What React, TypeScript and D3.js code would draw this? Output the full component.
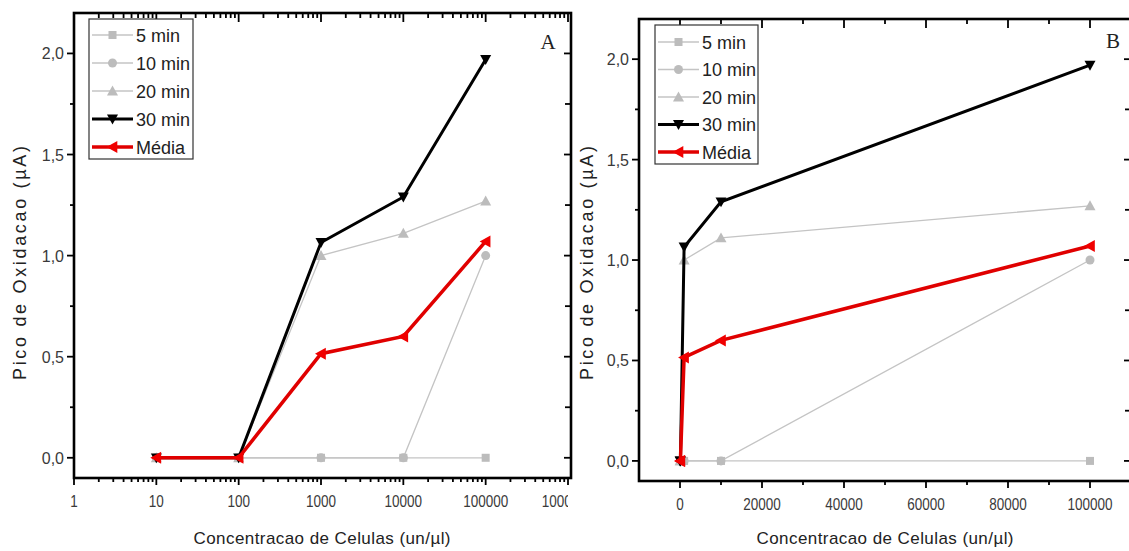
import React from "react";
import * as d3 from "d3";

const conc = [10, 100, 1000, 10000, 100000];
const min5 = [0, 0, 0, 0, 0];
const min10 = [0, 0, 0, 0, 1.0];
const min20 = [0, 0, 1.0, 1.11, 1.27];
const min30 = [0, 0, 1.065, 1.29, 1.97];
const media = [0, 0, 0.515, 0.6, 1.07];
const seriesNames = ["5 min", "10 min", "20 min", "30 min", "Média"];
const yTickLabels = ["0,0", "0,5", "1,0", "1,5", "2,0"];
const yMajor = [0, 0.5, 1.0, 1.5, 2.0];
const yMinor = [0.25, 0.75, 1.25, 1.75];
const logMajor = [1, 10, 100, 1000, 10000, 100000, 1000000];
const linMajor = [0, 20000, 40000, 60000, 80000, 100000];
const linMinor = [10000, 30000, 50000, 70000, 90000];

const FONT = "'Liberation Sans', Arial, sans-serif";
const GRAY_LINE = "#c4c4c4";
const GRAY_MARK = "#bcbcbc";
const RED = "#e00000";

type Style = { name: string; data: number[]; stroke: string; fill: string; width: number; marker: string; size: number };
const styles: Style[] = [
  { name: seriesNames[0], data: min5, stroke: GRAY_LINE, fill: GRAY_MARK, width: 1.3, marker: "square", size: 8 },
  { name: seriesNames[1], data: min10, stroke: GRAY_LINE, fill: GRAY_MARK, width: 1.3, marker: "circle", size: 9 },
  { name: seriesNames[2], data: min20, stroke: GRAY_LINE, fill: GRAY_MARK, width: 1.3, marker: "up", size: 11 },
  { name: seriesNames[3], data: min30, stroke: "#000", fill: "#000", width: 3, marker: "down", size: 11 },
  { name: seriesNames[4], data: media, stroke: RED, fill: "#f00000", width: 3.5, marker: "left", size: 12 },
];

function Marker({ x, y, kind, size, fill }: { x: number; y: number; kind: string; size: number; fill: string }) {
  const h = size / 2;
  if (kind === "square") return <rect x={x - h} y={y - h} width={size} height={size} fill={fill} />;
  if (kind === "circle") return <circle cx={x} cy={y} r={h} fill={fill} />;
  let pts = "";
  if (kind === "up") pts = `${x},${y - h} ${x + h},${y + h * 0.8} ${x - h},${y + h * 0.8}`;
  if (kind === "down") pts = `${x},${y + h} ${x + h},${y - h * 0.8} ${x - h},${y - h * 0.8}`;
  if (kind === "left") pts = `${x - h},${y} ${x + h * 0.8},${y - h} ${x + h * 0.8},${y + h}`;
  return <polygon points={pts} fill={fill} />;
}

type PanelProps = {
  id: string;
  left: number; right: number; top: number; bottom: number; xEnd: number;
  log: boolean;
  letter: string; letterX: number; letterY: number;
  legendX: number; legendY: number; legendW: number; legendH: number; legendRow0: number; legendStep: number;
  ytitleX: number; xtitleX: number;
  clipRight: number;
};

function Panel(p: PanelProps) {
  const y = d3.scaleLinear().domain([-0.1, 2.2]).range([p.bottom, p.top]);
  const x: any = p.log
    ? d3.scaleLog().domain([1, 1000000]).range([p.left, p.xEnd])
    : d3.scaleLinear().domain([-10000, 110000]).range([p.left, p.xEnd]);
  const line = d3.line<number>().x((_, i) => x(conc[i])).y((d) => y(d));

  const xMaj = p.log ? logMajor : linMajor;
  let xMin: number[] = [];
  if (p.log) {
    for (let k = 0; k < 6; k++) for (let m = 2; m <= 9; m++) xMin.push(m * Math.pow(10, k));
  } else xMin = linMinor;
  const xLabel = (v: number) => String(v);

  const majLen = 7, minLen = 4;
  const tickStroke = 1.8;

  return (
    <g>
      <defs>
        <clipPath id={`clip-${p.id}`}>
          <rect x={p.left - 80} y={0} width={p.clipRight - p.left + 80} height={551} />
        </clipPath>
      </defs>
      {styles.map((s, si) => (
        <g key={si}>
          <path d={line(s.data) || ""} fill="none" stroke={s.stroke} strokeWidth={s.width} strokeLinejoin="miter" />
          {s.data.map((v, i) => (
            <Marker key={i} x={x(conc[i])} y={y(v)} kind={s.marker} size={s.size} fill={s.fill} />
          ))}
        </g>
      ))}
      <g stroke="#000" strokeWidth={tickStroke}>
        {xMaj.map((v, i) => (
          <g key={"xm" + i}>
            <line x1={x(v)} x2={x(v)} y1={p.bottom} y2={p.bottom + majLen} />
            <line x1={x(v)} x2={x(v)} y1={p.top} y2={p.top + majLen + 2} />
          </g>
        ))}
        {xMin.map((v, i) => (
          <g key={"xn" + i}>
            <line x1={x(v)} x2={x(v)} y1={p.bottom} y2={p.bottom + minLen} />
            <line x1={x(v)} x2={x(v)} y1={p.top} y2={p.top + minLen + 1} />
          </g>
        ))}
        {yMajor.map((v, i) => (
          <g key={"ym" + i}>
            <line x1={p.left - majLen} x2={p.left} y1={y(v)} y2={y(v)} />
            <line x1={p.right - majLen} x2={p.right} y1={y(v)} y2={y(v)} />
          </g>
        ))}
        {yMinor.map((v, i) => (
          <g key={"yn" + i}>
            <line x1={p.left - minLen} x2={p.left} y1={y(v)} y2={y(v)} />
            <line x1={p.right - minLen - 2} x2={p.right} y1={y(v)} y2={y(v)} />
          </g>
        ))}
      </g>
      <rect x={p.left} y={p.top} width={p.right - p.left} height={p.bottom - p.top} fill="none" stroke="#000" strokeWidth={2.6} />
      <g fontFamily={FONT} fontSize={16} fill="#3a3a3a" clipPath={`url(#clip-${p.id})`}>
        {xMaj.map((v, i) => (
          <text key={i} x={x(v)} y={p.bottom + 29} textAnchor="middle" textLength={xLabel(v).length * 7.5} lengthAdjust="spacingAndGlyphs">{xLabel(v)}</text>
        ))}
        {yMajor.map((v, i) => (
          <text key={i} x={p.left - 10} y={y(v) + 6} textAnchor="end">{yTickLabels[i]}</text>
        ))}
      </g>
      <text x={p.xtitleX} y={544} textAnchor="middle" fontFamily={FONT} fontSize={17} fill="#222" textLength={257} lengthAdjust="spacing">
        Concentracao de Celulas (un/µl)
      </text>
      <text transform={`translate(${p.ytitleX},263) rotate(-90)`} textAnchor="middle" fontFamily={FONT} fontSize={18} fill="#222" textLength={234} lengthAdjust="spacing">
        Pico de Oxidacao (µA)
      </text>
      <text x={p.letterX} y={p.letterY} textAnchor="middle" fontFamily="'Liberation Serif', 'Times New Roman', serif" fontSize={21} fill="#222">{p.letter}</text>
      <rect x={p.legendX} y={p.legendY} width={p.legendW} height={p.legendH} fill="#fff" stroke="#333" strokeWidth={1.2} />
      {styles.map((s, i) => {
        const cy = p.legendRow0 + i * p.legendStep;
        const lx0 = p.legendX + 3, lx1 = p.legendX + 44;
        return (
          <g key={i}>
            <line x1={lx0} x2={lx1} y1={cy} y2={cy} stroke={s.stroke} strokeWidth={s.width} />
            <Marker x={(lx0 + lx1) / 2} y={cy} kind={s.marker} size={s.size} fill={s.fill} />
            <text x={p.legendX + 47} y={cy + 6.5} fontFamily={FONT} fontSize={18} fill="#222">{s.name}</text>
          </g>
        );
      })}
    </g>
  );
}

export default function App() {
  return (
    <svg width={1129} height={551} style={{ position: "absolute", left: 0, top: 0, background: "#fff" }}>
      <rect width={1129} height={551} fill="#fff" />
      <Panel id="a" left={74} right={571} xEnd={568} top={13} bottom={478} log={true}
        letter="A" letterX={548} letterY={49}
        legendX={89} legendY={19} legendW={104} legendH={140} legendRow0={35} legendStep={28}
        ytitleX={26} xtitleX={322} clipRight={568} />
      <Panel id="b" left={639} right={1131} xEnd={1131} top={19} bottom={481} log={false}
        letter="B" letterX={1113} letterY={48}
        legendX={655} legendY={25} legendW={103} legendH={139} legendRow0={42} legendStep={27.5}
        ytitleX={593} xtitleX={885} clipRight={1200} />
    </svg>
  );
}
